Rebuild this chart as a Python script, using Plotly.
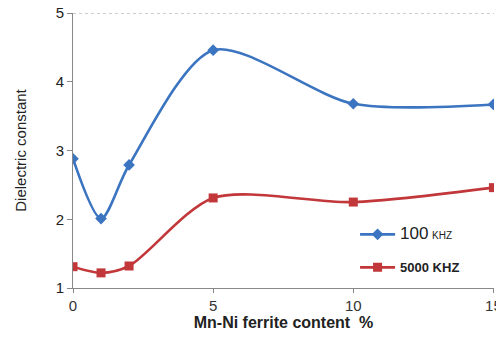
import plotly.graph_objects as go

# Mn-Ni ferrite content (%) and dielectric constant at two frequencies
content = [0, 1, 2, 5, 10, 15]
eps_100khz = [2.88, 2.01, 2.79, 4.46, 3.68, 3.67]
eps_5000khz = [1.31, 1.22, 1.32, 2.31, 2.25, 2.46]

x_ticks = [0, 5, 10, 15]
y_ticks = [1, 2, 3, 4, 5]

blue = "#3b74c0"
red = "#c2373a"

fig = go.Figure()
fig.add_trace(go.Scatter(
    x=content, y=eps_100khz, mode="lines+markers",
    name="<span style='font-size:17px'>100</span> <span style='font-size:10px'>KHZ</span>",
    line=dict(color=blue, width=2.6, shape="spline", smoothing=0.8),
    marker=dict(symbol="diamond", size=9, color=blue),
    legend="legend",
))
fig.add_trace(go.Scatter(
    x=content, y=eps_5000khz, mode="lines+markers",
    name="<b>5000 KHZ</b>",
    line=dict(color=red, width=2.6, shape="spline", smoothing=0.8),
    marker=dict(symbol="square", size=9, color=red),
    legend="legend2",
))

# dotted top border
fig.add_shape(type="line", xref="paper", yref="y", x0=0, x1=1, y0=5, y1=5,
              line=dict(color="#9a9a9a", width=1, dash="dot"))

legend_style = dict(xanchor="left", yanchor="middle", bgcolor="rgba(0,0,0,0)",
                    font=dict(size=13, color="#222222"), itemwidth=35)

fig.update_layout(
    width=496, height=339,
    margin=dict(l=73, r=2, t=13, b=51),
    paper_bgcolor="white", plot_bgcolor="white",
    showlegend=True,
    font=dict(family="Liberation Sans, Arial, sans-serif", color="#333333"),
    legend=dict(x=0.67, y=0.195, **legend_style),
    legend2=dict(x=0.67, y=0.075, **legend_style),
    xaxis=dict(range=[0, 15.02], tickvals=x_ticks, ticks="outside", ticklen=4,
               tickcolor="#888888", showline=True, linecolor="#888888",
               showgrid=False, zeroline=False, tickfont=dict(size=15, color="#333333"),
               ticklabeloverflow="allow", automargin=False,
               title=dict(text="<b>Mn-Ni ferrite content  %</b>",
                          font=dict(size=16, color="#222222"), standoff=2)),
    yaxis=dict(range=[1, 5], tickvals=y_ticks, ticks="outside", ticklen=5,
               tickcolor="#888888", showline=True, linecolor="#888888",
               showgrid=False, zeroline=False, tickfont=dict(size=15, color="#222222"),
               automargin=False,
               title=dict(text="Dielectric constant",
                          font=dict(size=15, color="#222222"), standoff=25)),
)

fig.write_html("out.html")
